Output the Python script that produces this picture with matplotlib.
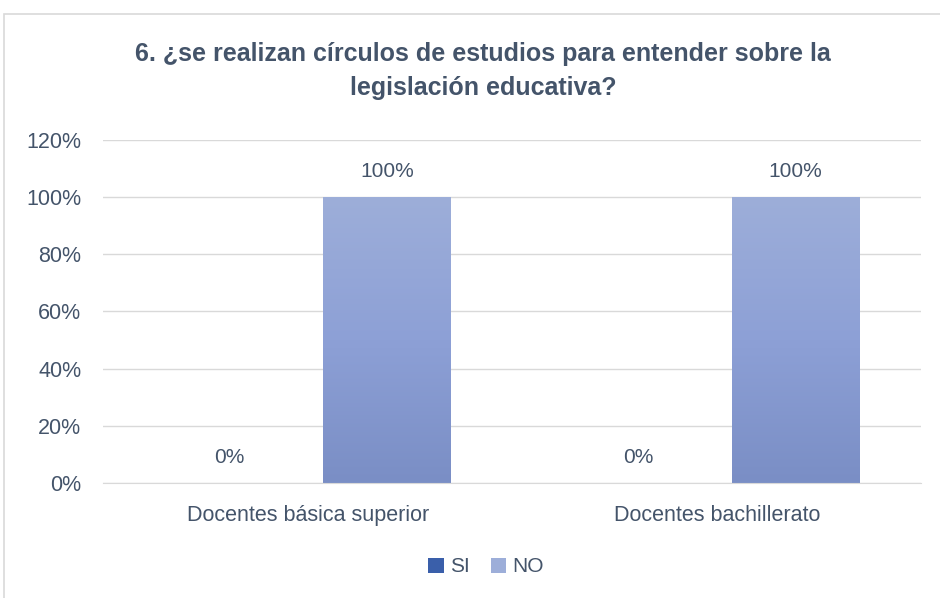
import numpy as np
import matplotlib.pyplot as plt
from matplotlib.patches import Rectangle, Patch
from matplotlib.colors import LinearSegmentedColormap

categories = ['Docentes básica superior', 'Docentes bachillerato']
series_names = ['SI', 'NO']
si_values = [0, 0]
no_values = [100, 100]
y_ticks = [0, 20, 40, 60, 80, 100, 120]

TEXT = '#44546A'
GRID = '#D9D9D9'
plt.rcParams['font.family'] = ['Liberation Sans', 'DejaVu Sans']

fig = plt.figure(figsize=(9.4, 5.98), dpi=100)
ax = fig.add_axes([0.110, 0.1923, 0.870, 0.5736])

x = np.arange(len(categories))
width = 0.313
offset = 0.193

bars_si = ax.bar(x - offset, si_values, width, color='#3A5FAA', zorder=2)
bars_no = ax.bar(x + offset, no_values, width, color='none', zorder=2)

# vertical gradient inside the NO bars
cmap = LinearSegmentedColormap.from_list('g', ['#7A8EC5', '#8DA0D6', '#9DAED9'])
grad = np.linspace(0, 1, 256).reshape(-1, 1)
for b in bars_no:
    x0, y0, w, h = b.get_x(), b.get_y(), b.get_width(), b.get_height()
    im = ax.imshow(grad, cmap=cmap, origin='lower', aspect='auto',
                   extent=[x0, x0 + w, y0, y0 + h], zorder=2)
    im.set_clip_path(b)

for bars, vals in ((bars_si, si_values), (bars_no, no_values)):
    for b, v in zip(bars, vals):
        ax.text(b.get_x() + b.get_width() / 2, v + 9, f'{v}%',
                ha='center', va='center', fontsize=15, color=TEXT)

ax.set_xlim(-0.5, 1.5)
ax.set_ylim(0, 120)
ax.set_yticks(y_ticks)
ax.set_yticklabels([f'{t}%' for t in y_ticks])
ax.set_xticks(x)
ax.set_xticklabels(categories)
ax.tick_params(axis='both', length=0, labelsize=15.5, labelcolor=TEXT)
ax.tick_params(axis='x', pad=16)
ax.tick_params(axis='y', pad=16)
ax.grid(axis='y', color=GRID, linewidth=1, zorder=0)
ax.set_axisbelow(True)
for s in ['top', 'right', 'left']:
    ax.spines[s].set_visible(False)
ax.spines['bottom'].set_color(GRID)

fig.text(0.514, 0.881, '6. ¿se realizan círculos de estudios para entender sobre la\nlegislación educativa?',
         ha='center', va='center', fontsize=18, fontweight='bold', color=TEXT, linespacing=1.5)

handles = [Patch(facecolor='#3A5FAA'), Patch(facecolor='#9DAED9')]
fig.legend(handles, series_names, loc='center', bbox_to_anchor=(0.517, 0.052), ncol=2,
           frameon=False, fontsize=15, labelcolor=TEXT, handlelength=0.75, handleheight=0.75,
           handletextpad=0.3, columnspacing=1.0)

fig.patches.append(Rectangle((4 / 940, -0.01), 1.0, 1 - 14 / 598 + 0.01, transform=fig.transFigure,
                             fill=False, edgecolor=GRID, linewidth=1.2))

fig.savefig('out.png', dpi=100)
